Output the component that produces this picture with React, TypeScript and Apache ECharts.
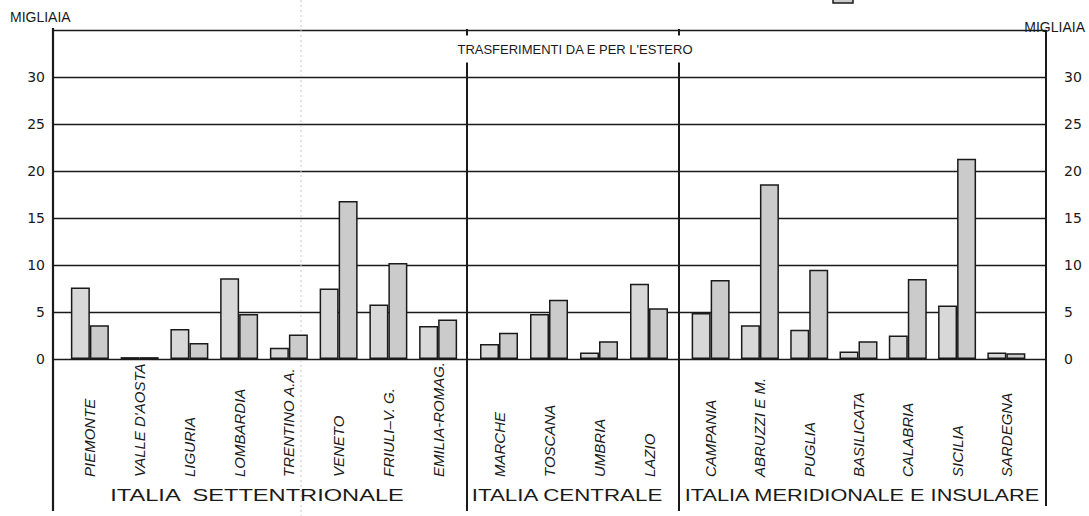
import React, { useEffect, useRef } from "react";
import * as echarts from "echarts";

const northRegions = ["PIEMONTE", "VALLE D'AOSTA", "LIGURIA", "LOMBARDIA", "TRENTINO A.A.", "VENETO", "FRIULI–V. G.", "EMILIA-ROMAG."];
const northA = [7.6, 0.2, 3.2, 8.6, 1.2, 7.5, 5.8, 3.5];
const northB = [3.6, 0.2, 1.7, 4.8, 2.6, 16.8, 10.2, 4.2];

const centralRegions = ["MARCHE", "TOSCANA", "UMBRIA", "LAZIO"];
const centralA = [1.6, 4.8, 0.7, 8.0];
const centralB = [2.8, 6.3, 1.9, 5.4];

const southRegions = ["CAMPANIA", "ABRUZZI E M.", "PUGLIA", "BASILICATA", "CALABRIA", "SICILIA", "SARDEGNA"];
const southA = [4.9, 3.6, 3.1, 0.8, 2.5, 5.7, 0.7];
const southB = [8.4, 18.6, 9.5, 1.9, 8.5, 21.3, 0.6];

const groupNames = ["ITALIA  SETTENTRIONALE", "ITALIA CENTRALE", "ITALIA MERIDIONALE E INSULARE"];
const seriesNames = ["Iscrizioni dall'estero", "Cancellazioni per l'estero"];
const yTicks = [0, 5, 10, 15, 20, 25, 30];
const titleText = "TRASFERIMENTI DA E PER L'ESTERO";
const unitText = "MIGLIAIA";

const INK = "#1a1a1a";
const FONT = "Liberation Sans";

function measure(text: string, size: number): number {
  const c = document.createElement("canvas").getContext("2d");
  if (!c) return text.length * size * 0.6;
  c.font = `${size}px "${FONT}"`;
  return c.measureText(text).width;
}

export default function App() {
  const ref = useRef<HTMLDivElement>(null);
  useEffect(() => {
    if (!ref.current) return;
    const chart = echarts.init(ref.current, undefined, { renderer: "svg" });

    const top = 30;
    const bottom = 157;
    const groups = [
      { left: 65, width: 398, cats: northRegions, a: northA, b: northB },
      { left: 474, width: 200, cats: centralRegions, a: centralA, b: centralB },
      { left: 686, width: 345, cats: southRegions, a: southA, b: southB },
    ];

    const grids: any[] = [{ left: 53, right: 43, top, bottom }];
    const xAxes: any[] = [{ type: "value", gridIndex: 0, show: false, min: 0, max: 1 }];
    const yAxes: any[] = [
      {
        type: "value", gridIndex: 0, min: 0, max: 35, interval: 5, position: "left",
        axisLine: { show: false }, axisTick: { show: false },
        splitLine: { show: true, lineStyle: { color: INK, width: 1.3 } },
        axisLabel: {
          margin: 8, color: INK, fontSize: 14, fontFamily: "DejaVu Sans",
          formatter: (v: number) => (yTicks.indexOf(v) >= 0 ? String(v) : ""),
        },
      },
      {
        type: "value", gridIndex: 0, min: 0, max: 35, interval: 5, position: "right",
        axisLine: { show: false }, axisTick: { show: false }, splitLine: { show: false },
        axisLabel: {
          margin: 18, color: INK, fontSize: 14, fontFamily: "DejaVu Sans",
          formatter: (v: number) => (yTicks.indexOf(v) >= 0 ? String(v) : ""),
        },
      },
    ];
    const series: any[] = [];

    groups.forEach((g, i) => {
      const gi = i + 1;
      grids.push({ left: g.left, width: g.width, top, bottom });
      xAxes.push({
        type: "category", gridIndex: gi, data: g.cats, boundaryGap: true,
        axisLine: { show: false }, axisTick: { show: false },
        axisLabel: {
          interval: 0, rotate: 90, align: "left", verticalAlign: "middle", margin: 118,
          color: INK, fontSize: 15, fontStyle: "italic", fontFamily: FONT,
        },
      });
      yAxes.push({ type: "value", gridIndex: gi, min: 0, max: 35, interval: 5, show: false });
      const yi = yAxes.length - 1;
      [g.a, g.b].forEach((d, k) => {
        series.push({
          type: "bar", name: seriesNames[k], xAxisIndex: gi, yAxisIndex: yi, data: d,
          barWidth: 19, barGap: "0%",
          itemStyle: { color: k === 0 ? "#d8d8d8" : "#cbcbcb", borderColor: INK, borderWidth: 1.5 },
        });
      });
    });

    const groupCenters = [257, 567, 862];
    const groupWidths = [295, 192, 356];
    const groupTexts = groupNames.map((t, i) => {
      const w = measure(t, 17);
      return {
        type: "text", x: groupCenters[i], y: 495, scaleX: groupWidths[i] / w, z: 10,
        style: { text: t, x: 0, y: 0, fontSize: 17, fontFamily: FONT, fill: INK, textAlign: "center", textVerticalAlign: "middle", align: "center", verticalAlign: "middle" },
      };
    });

    const vline = (x: number, y1: number, y2: number, w = 2) => ({
      type: "line", z: 5, shape: { x1: x, y1, x2: x, y2 }, style: { stroke: INK, lineWidth: w },
    });

    chart.setOption({
      animation: false,
      backgroundColor: "#ffffff",
      grid: grids,
      xAxis: xAxes,
      yAxis: yAxes,
      series,
      graphic: [
        { type: "line", z: 1, shape: { x1: 301, y1: 0, x2: 301, y2: 516 }, style: { stroke: "#c8c8c8", lineWidth: 1, lineDash: [2, 3] } },
        vline(53, 28, 511, 2.2),
        vline(467, 29, 511),
        vline(679, 29, 511),
        vline(1046, 30, 506),
        {
          type: "text", x: 575, y: 49, z: 20,
          style: {
            text: titleText, x: 0, y: 0, fontSize: 13, fontFamily: FONT, fill: INK,
            textAlign: "center", textVerticalAlign: "middle", align: "center", verticalAlign: "middle",
            backgroundColor: "#ffffff", padding: [7, 6],
          },
        },
        {
          type: "text", x: 10, y: 17, z: 10,
          style: { text: unitText, x: 0, y: 0, fontSize: 14, fontFamily: FONT, fill: INK, textAlign: "left", textVerticalAlign: "middle", align: "left", verticalAlign: "middle" },
        },
        {
          type: "text", x: 1085, y: 27, z: 10,
          style: { text: unitText, x: 0, y: 0, fontSize: 14, fontFamily: FONT, fill: INK, textAlign: "right", textVerticalAlign: "middle", align: "right", verticalAlign: "middle" },
        },
        { type: "rect", z: 10, shape: { x: 833, y: -5, width: 20, height: 8 }, style: { fill: "#cccccc", stroke: INK, lineWidth: 1.5 } },
        ...groupTexts,
      ],
    });
    return () => chart.dispose();
  }, []);
  return <div ref={ref} style={{ position: "fixed", left: 0, top: 0, width: 1089, height: 516 }} />;
}
